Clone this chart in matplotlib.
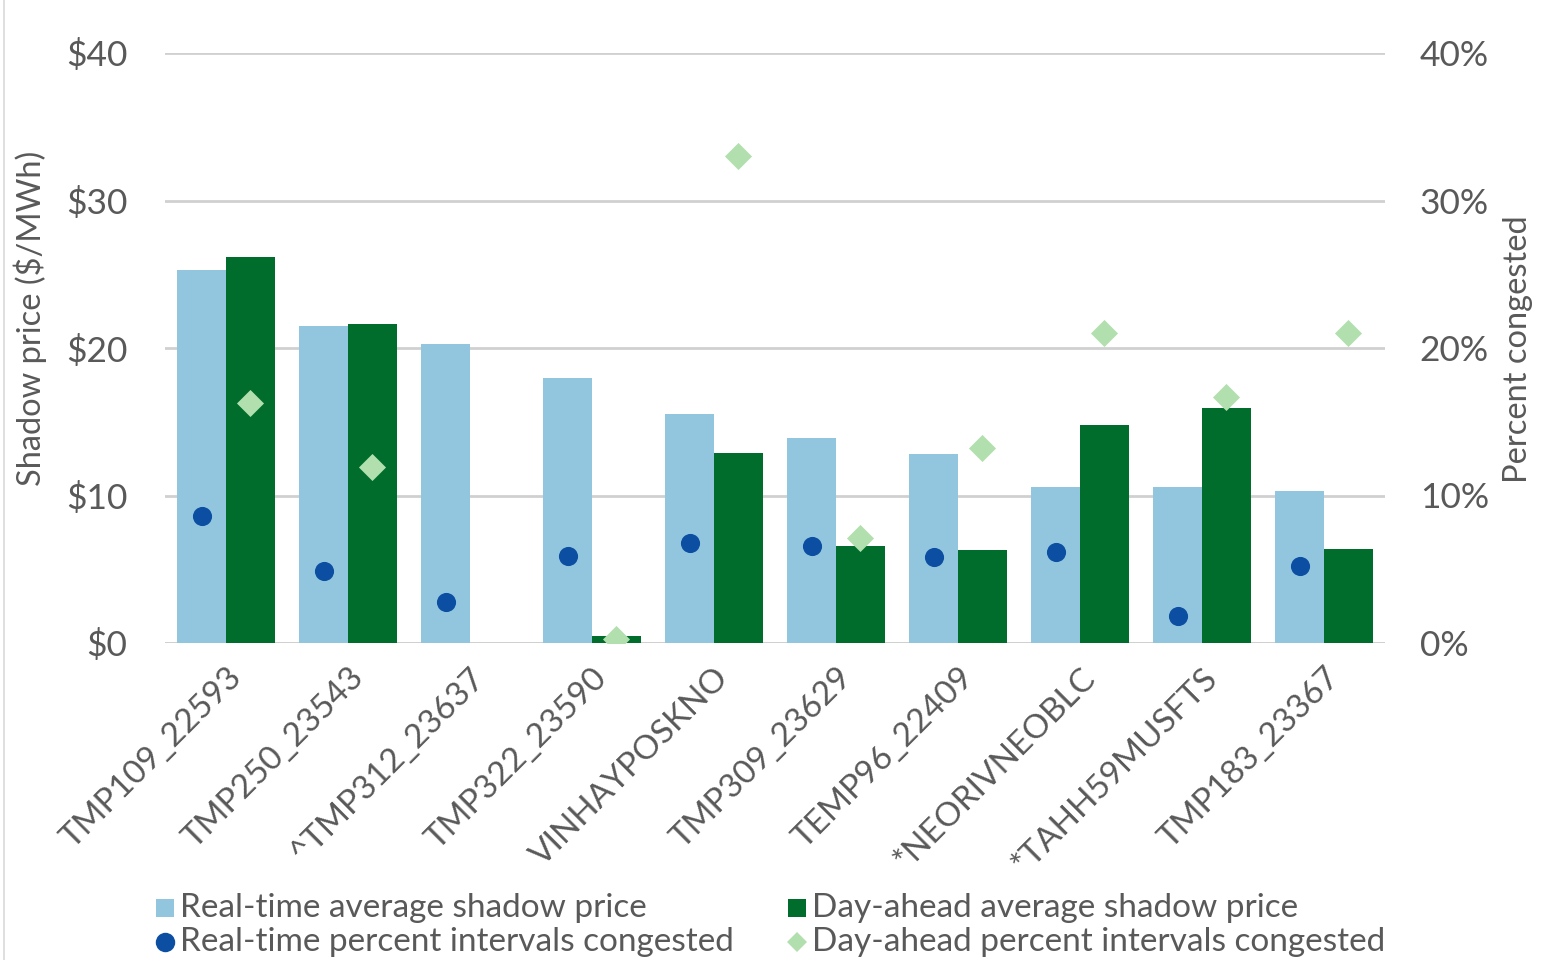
import matplotlib
matplotlib.use("Agg")
import matplotlib.pyplot as plt
import numpy as np
from matplotlib.lines import Line2D

categories = ["TMP109_22593", "TMP250_23543", "^TMP312_23637", "TMP322_23590",
              "VINHAYPOSKNO", "TMP309_23629", "TEMP96_22409", "*NEORIVNEOBLC",
              "*TAHH59MUSFTS", "TMP183_23367"]
rt_price = [25.3, 21.5, 20.3, 18.0, 15.5, 13.9, 12.8, 10.6, 10.6, 10.3]
da_price = [26.2, 21.6, 0.0, 0.45, 12.9, 6.6, 6.3, 14.8, 15.9, 6.4]
rt_pct = [8.6, 4.9, 2.8, 5.9, 6.8, 6.6, 5.8, 6.2, 1.8, 5.2]
da_pct = [16.3, 11.9, np.nan, 0.3, 33.0, 7.1, 13.2, 21.0, 16.7, 21.0]

series_labels = ["Real-time average shadow price", "Real-time percent intervals congested",
                 "Day-ahead average shadow price", "Day-ahead percent intervals congested"]

C_RT = "#92C5DE"
C_DA = "#006D2C"
C_DOT = "#0B4EA2"
C_DIA = "#B2DFAE"
C_TXT = "#595959"
C_GRID = "#D0D0D0"

plt.rcParams['font.family'] = ['Lato', 'DejaVu Sans']

fig = plt.figure(figsize=(15.45, 9.6), dpi=100)
ax = fig.add_axes([165/1545, 1-643/960, 1220/1545, 590/960])
ax2 = ax.twinx()

x = np.arange(len(categories))
w = 0.4
ax.bar(x - w/2, rt_price, width=w, color=C_RT, zorder=2)
ax.bar(x + w/2, da_price, width=w, color=C_DA, zorder=2)

ax.set_ylim(0, 40)
ax.set_xlim(-0.5, len(categories) - 0.5)
ax.set_yticks([0, 10, 20, 30, 40])
ax.set_yticklabels(["$0", "$10", "$20", "$30", "$40"])
ax.yaxis.grid(True, color=C_GRID, linewidth=2, zorder=0)
ax.set_axisbelow(True)
for s in ax.spines.values():
    s.set_visible(False)
for s in ax2.spines.values():
    s.set_visible(False)
ax.tick_params(axis='y', length=0, labelsize=25.5, labelcolor=C_TXT, pad=27)
ax.tick_params(axis='x', length=0, labelsize=24, labelcolor=C_TXT, pad=14)
ax.set_xticks(x)
ax.set_xticklabels(categories, rotation=45, ha='right', rotation_mode='anchor')

ax2.scatter(x - w/2, rt_pct, s=190, color=C_DOT, marker='o', zorder=5, linewidths=0)
ax2.scatter(x + w/2, da_pct, s=190, color=C_DIA, marker='D', zorder=5, linewidths=0)
ax2.set_ylim(0, 40)
ax2.set_yticks([0, 10, 20, 30, 40])
ax2.set_yticklabels(["0%", "10%", "20%", "30%", "40%"])
ax2.tick_params(axis='y', length=0, labelsize=25.5, labelcolor=C_TXT, pad=25)

fig.text(30/1545, 1-318/960, "Shadow price ($/MWh)", rotation=90, fontsize=23.5,
         color=C_TXT, ha='center', va='center')
fig.text(1518/1545, 1-349/960, "Percent congested", rotation=90, fontsize=23.5,
         color=C_TXT, ha='center', va='center')

ax.axhline(0, color=C_GRID, linewidth=2, zorder=1)

fig.add_artist(Line2D([4/1545, 4/1545], [0, 1], color="#D9D9D9", linewidth=1.2))

# legend (manual placement)
leg_items = [
    (165, 908, 's', C_RT, 13, series_labels[0]),
    (165, 942, 'o', C_DOT, 14, series_labels[1]),
    (797, 908, 's', C_DA, 13, series_labels[2]),
    (797, 942, 'D', C_DIA, 10, series_labels[3]),
]
for px, py, mk, col, ms, lab in leg_items:
    fig.add_artist(Line2D([px/1545], [1-py/960], marker=mk, color=col, markersize=ms,
                          linestyle='', markeredgewidth=0))
    fig.text((px+15)/1545, 1-py/960, lab, fontsize=24,
             color=C_TXT, ha='left', va='center')

fig.savefig("out.png", dpi=100)
